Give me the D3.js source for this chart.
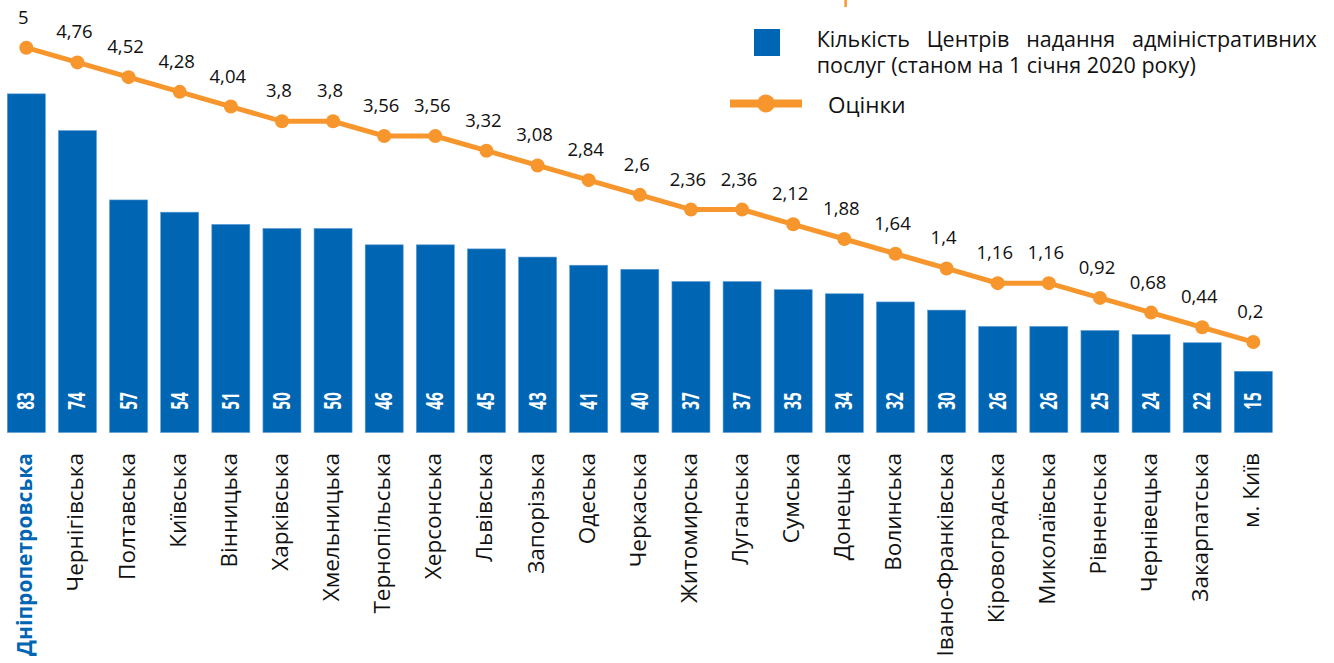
<!DOCTYPE html>
<html>
<head>
<meta charset="utf-8">
<script src="https://cdn.jsdelivr.net/npm/d3@7"></script>
<style>
  body { margin: 0; background: #fff; }
  svg { display: block; font-family: "Open Sans", sans-serif; }
</style>
</head>
<body>
<svg id="chart" width="1334" height="663"></svg>
<script>
// regions, number of admin service centres, and score
const regions = ["Дніпропетровська", "Чернігівська", "Полтавська", "Київська", "Вінницька",
  "Харківська", "Хмельницька", "Тернопільська", "Херсонська", "Львівська", "Запорізька",
  "Одеська", "Черкаська", "Житомирська", "Луганська", "Сумська", "Донецька", "Волинська",
  "Івано-Франківська", "Кіровоградська", "Миколаївська", "Рівненська", "Чернівецька",
  "Закарпатська", "м. Київ"];
const centers = [83, 74, 57, 54, 51, 50, 50, 46, 46, 45, 43, 41, 40, 37, 37, 35, 34, 32, 30, 26, 26, 25, 24, 22, 15];
const scores = [5, 4.76, 4.52, 4.28, 4.04, 3.8, 3.8, 3.56, 3.56, 3.32, 3.08, 2.84, 2.6, 2.36, 2.36,
  2.12, 1.88, 1.64, 1.4, 1.16, 1.16, 0.92, 0.68, 0.44, 0.2];
const legendBar = "Кількість Центрів надання адміністративних послуг (станом на 1 січня 2020 року)";
const legendLine = "Оцінки";

const blue = "#0066b3";
const orange = "#f7962d";

const svg = d3.select("#chart");

const x = d3.scaleBand()
  .domain(regions)
  .range([0.75, 1278.9])
  .paddingInner(0.2567)
  .paddingOuter(0.1284);

const yBar = d3.scaleLinear().domain([0, 100]).range([432.5, 24.5]);
const yLine = d3.scaleLinear().domain([0, 5]).range([354.3, 47.7]);

const fmt = v => String(v).replace(".", ",");
const cx = d => x(d) + x.bandwidth() / 2;

// bars
svg.append("g").selectAll("rect")
  .data(regions)
  .join("rect")
  .attr("x", d => x(d))
  .attr("width", x.bandwidth())
  .attr("y", (d, i) => yBar(centers[i]))
  .attr("height", (d, i) => yBar(0) - yBar(centers[i]))
  .attr("fill", blue)
  .attr("stroke", "#5b9bd5")
  .attr("stroke-width", 0.6);

// counts inside the bars
svg.append("g").selectAll("text")
  .data(regions)
  .join("text")
  .attr("transform", d => `translate(${cx(d) + 8},401) rotate(-90)`)
  .attr("text-anchor", "middle")
  .attr("font-size", 23)
  .attr("font-weight", "bold")
  .attr("fill", "#fff")
  .attr("textLength", (d, i) => String(centers[i]).length * 8.8)
  .attr("lengthAdjust", "spacingAndGlyphs")
  .text((d, i) => centers[i]);

// category labels
svg.append("g").selectAll("text")
  .data(regions)
  .join("text")
  .attr("transform", d => `translate(${cx(d) + 6},453) rotate(-90)`)
  .attr("text-anchor", "end")
  .attr("font-size", (d, i) => i === 0 ? 21 : 22.5)
  .attr("font-weight", (d, i) => i === 0 ? "bold" : "normal")
  .attr("fill", (d, i) => i === 0 ? blue : "#111")
  .text(d => d);

// score line
const line = d3.line()
  .x(d => cx(d))
  .y((d, i) => yLine(scores[i]));

svg.append("path")
  .datum(regions)
  .attr("d", line)
  .attr("fill", "none")
  .attr("stroke", orange)
  .attr("stroke-width", 5);

svg.append("g").selectAll("circle")
  .data(regions)
  .join("circle")
  .attr("cx", d => cx(d))
  .attr("cy", (d, i) => yLine(scores[i]))
  .attr("r", 7)
  .attr("fill", orange);

svg.append("g").selectAll("text")
  .data(regions)
  .join("text")
  .attr("x", d => cx(d) - 3)
  .attr("y", (d, i) => yLine(scores[i]) - 24)
  .attr("text-anchor", "middle")
  .attr("font-size", 18.5)
  .attr("fill", "#111")
  .text((d, i) => fmt(scores[i]));

// cut-off mark at the top
svg.append("line")
  .attr("x1", 845.6).attr("x2", 845.6)
  .attr("y1", 0).attr("y2", 7)
  .attr("stroke", orange)
  .attr("stroke-width", 2.5);

// legend
const legend = svg.append("g");
legend.append("rect")
  .attr("x", 754).attr("y", 29)
  .attr("width", 26).attr("height", 27)
  .attr("fill", blue);

// first legend line is justified between 816.7 and 1316.7
const words = legendBar.split(" ");
const firstLine = words.slice(0, 4);
const secondLine = words.slice(4).join(" ");
const wordNodes = firstLine.map(w => legend.append("text")
  .attr("y", 46.5)
  .attr("font-size", 21.5)
  .attr("fill", "#111")
  .text(w));
const widths = wordNodes.map(n => n.node().getComputedTextLength());
const gap = (1316.7 - 816.7 - d3.sum(widths)) / (firstLine.length - 1);
let pos = 816.7;
wordNodes.forEach((n, i) => {
  n.attr("x", pos);
  pos += widths[i] + gap;
});
legend.append("text")
  .attr("x", 816.7).attr("y", 73)
  .attr("font-size", 21.5)
  .attr("fill", "#111")
  .text(secondLine);

legend.append("line")
  .attr("x1", 730).attr("x2", 802)
  .attr("y1", 103.5).attr("y2", 103.5)
  .attr("stroke", orange)
  .attr("stroke-width", 8);
legend.append("circle")
  .attr("cx", 766).attr("cy", 103.5)
  .attr("r", 9)
  .attr("fill", orange);
legend.append("text")
  .attr("x", 828).attr("y", 113)
  .attr("font-size", 22.5)
  .attr("fill", "#111")
  .text(legendLine);
</script>
</body>
</html>
